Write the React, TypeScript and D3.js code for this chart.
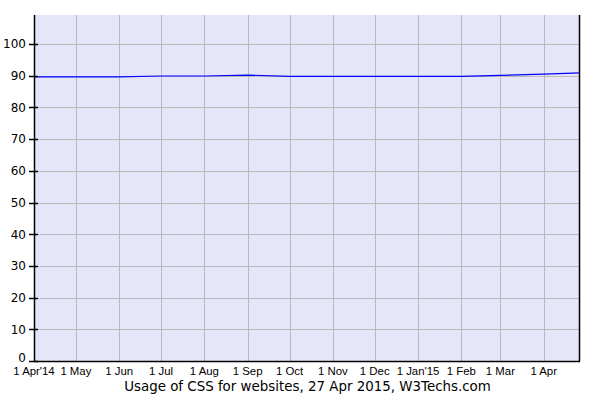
import React from "react";
import * as d3 from "d3";

const dates: string[] = [
  "2014-04-01", "2014-05-01", "2014-06-01", "2014-07-01", "2014-08-01", "2014-09-01",
  "2014-10-01", "2014-11-01", "2014-12-01", "2015-01-01", "2015-02-01", "2015-03-01",
  "2015-04-01", "2015-04-27",
];
const usage: number[] = [89.6, 89.6, 89.6, 89.9, 89.9, 90.2, 89.8, 89.8, 89.8, 89.8, 89.8, 90.1, 90.5, 90.9];
const xTickDates: string[] = [
  "2014-04-01", "2014-05-01", "2014-06-01", "2014-07-01", "2014-08-01", "2014-09-01",
  "2014-10-01", "2014-11-01", "2014-12-01", "2015-01-01", "2015-02-01", "2015-03-01", "2015-04-01",
];
const xTickLabels: string[] = [
  "1 Apr'14", "1 May", "1 Jun", "1 Jul", "1 Aug", "1 Sep", "1 Oct", "1 Nov", "1 Dec", "1 Jan'15", "1 Feb", "1 Mar", "1 Apr",
];
const yTicks: number[] = [0, 10, 20, 30, 40, 50, 60, 70, 80, 90, 100];
const title = "Usage of CSS for websites, 27 Apr 2015, W3Techs.com";

export default function App() {
  const W = 600, H = 400;
  const left = 34, right = 580, top = 15, bottom = 361;
  const parse = d3.utcParse("%Y-%m-%d");
  const x = d3.scaleUtc()
    .domain([parse("2014-04-01")!, parse("2015-04-27")!])
    .range([left, right]);
  const y = d3.scaleLinear().domain([0, 109.15]).range([bottom, top]);
  const data = dates.map((d, i) => ({ d: parse(d)!, v: usage[i] }));
  const line = d3.line<{ d: Date; v: number }>().x(p => x(p.d)).y(p => y(p.v));
  const r = (n: number) => Math.round(n) + 0.5;

  return (
    <svg width={W} height={H} style={{ position: "absolute", left: 0, top: 0 }}>
      <rect x={0} y={0} width={W} height={H} fill="#fff" />
      <rect x={left} y={top} width={right - left} height={bottom - top} fill="#e6e6fa" />
      {yTicks.filter(t => t > 0).map(t => (
        <line key={"gy" + t} x1={left} x2={right} y1={r(y(t))} y2={r(y(t))} stroke="#bababa" strokeWidth={1} />
      ))}
      {xTickDates.slice(1).map(t => (
        <line key={"gx" + t} x1={r(x(parse(t)!))} x2={r(x(parse(t)!))} y1={top} y2={bottom} stroke="#bababa" strokeWidth={1} />
      ))}
      <path d={line(data) || ""} fill="none" stroke="#0000ff" strokeWidth={1.2} />
      <line x1={r(left)} x2={r(left)} y1={top} y2={bottom + 0.5} stroke="#000" strokeWidth={1.5} />
      <line x1={r(right - 1)} x2={r(right - 1)} y1={top} y2={bottom + 0.5} stroke="#000" strokeWidth={1.5} />
      <line x1={left} x2={right} y1={r(bottom)} y2={r(bottom)} stroke="#000" strokeWidth={1.5} />
      {yTicks.map(t => (
        <g key={"ty" + t}>
          <line x1={left - 5} x2={left + 4} y1={r(y(t))} y2={r(y(t))} stroke="#000" strokeWidth={1.5} />
          <text x={26} y={y(t) - (t === 0 ? 3 : 0)} dy="0.36em" textAnchor="end"
            fontFamily="DejaVu Sans" fontSize={12} fill="#000">{t}</text>
        </g>
      ))}
      {xTickDates.map((t, i) => (
        <text key={"tx" + t} x={x(parse(t)!)} y={374.5} textAnchor="middle"
          fontFamily="Liberation Sans" fontSize={11.4} fill="#000">{xTickLabels[i]}</text>
      ))}
      <text x={307.5} y={391} textAnchor="middle" fontFamily="DejaVu Sans" fontSize={13.4} fill="#000">{title}</text>
    </svg>
  );
}
